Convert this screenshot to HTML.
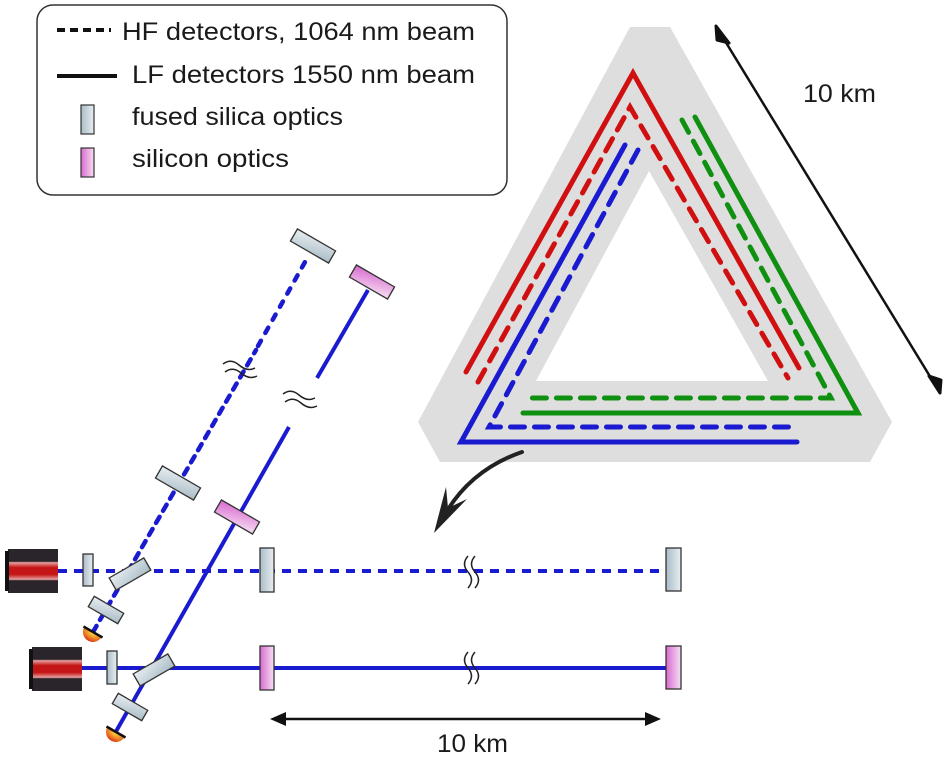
<!DOCTYPE html>
<html><head><meta charset="utf-8"><style>
html,body{margin:0;padding:0;background:#fff;}
svg{display:block;font-family:"Liberation Sans","DejaVu Sans",sans-serif;}
</style></head><body>
<svg width="951" height="765" viewBox="0 0 951 765" xmlns="http://www.w3.org/2000/svg">
<defs>
<linearGradient id="fs" x1="0" x2="1" y1="0" y2="0"><stop offset="0" stop-color="#a9bcc6"/><stop offset="1" stop-color="#e8eef1"/></linearGradient>
<linearGradient id="si" x1="0" x2="1" y1="0" y2="0"><stop offset="0" stop-color="#d86ad0"/><stop offset="1" stop-color="#f6e0f2"/></linearGradient>
<linearGradient id="fs2" x1="0" x2="1" y1="0" y2="1"><stop offset="0" stop-color="#e8eef1"/><stop offset="1" stop-color="#a9bcc6"/></linearGradient>
<linearGradient id="si2" x1="0" x2="1" y1="0" y2="1"><stop offset="0" stop-color="#d86ad0"/><stop offset="1" stop-color="#f6e0f2"/></linearGradient>
<linearGradient id="las" x1="0" x2="0" y1="0" y2="1"><stop offset="0" stop-color="#2a252a"/><stop offset="0.28" stop-color="#2a252a"/><stop offset="0.31" stop-color="#e8a0a0"/><stop offset="0.42" stop-color="#c41616"/><stop offset="0.58" stop-color="#c41616"/><stop offset="0.69" stop-color="#e8a0a0"/><stop offset="0.72" stop-color="#2a252a"/><stop offset="1" stop-color="#2a252a"/></linearGradient>
<radialGradient id="det" cx="0.5" cy="0.2" r="0.8"><stop offset="0" stop-color="#ffd040"/><stop offset="1" stop-color="#d83010"/></radialGradient>
</defs>

<!-- legend -->
<rect x="37" y="5" width="470" height="190" rx="16" fill="#fff" stroke="#333" stroke-width="1.5"/>
<line x1="57" y1="30" x2="111" y2="30" stroke="#111" stroke-width="4" stroke-dasharray="8,5"/>
<line x1="57" y1="76" x2="117" y2="76" stroke="#111" stroke-width="4"/>
<rect x="81" y="105" width="13" height="29" fill="url(#fs)" stroke="#333" stroke-width="1.2"/>
<rect x="81" y="148" width="13" height="29" fill="url(#si)" stroke="#333" stroke-width="1.2"/>
<g font-size="25" fill="#1a1a1a">
<text x="122" y="40" textLength="353" lengthAdjust="spacingAndGlyphs">HF detectors, 1064 nm beam</text>
<text x="132" y="83" textLength="343" lengthAdjust="spacingAndGlyphs">LF detectors 1550 nm beam</text>
<text x="132" y="125" textLength="211" lengthAdjust="spacingAndGlyphs">fused silica optics</text>
<text x="132" y="167" textLength="157" lengthAdjust="spacingAndGlyphs">silicon optics</text>
</g>

<!-- triangle -->
<path d="M630,27 L670,27 L892,422 L870,462 L440,462 L418,422 Z M649,171 L536,381 L768,381 Z" fill="#dedede" fill-rule="evenodd"/>
<g fill="none" stroke-width="5" stroke-linecap="round" stroke-linejoin="miter">
<path d="M466,372 L633,73 L799,368" stroke="#d01010"/>
<path d="M478,382 L630,107 L788,378" stroke="#d01010" stroke-dasharray="14,10"/>
<path d="M625,145 L461,442 L797,442" stroke="#1a1ad0"/>
<path d="M638,150 L489,427 L797,427" stroke="#1a1ad0" stroke-dasharray="14,10"/>
<path d="M695,117 L858,413 L523,413" stroke="#109010"/>
<path d="M682,120 L831,398 L523,398" stroke="#109010" stroke-dasharray="14,10"/>
</g>
<!-- 10 km diag arrow -->
<line x1="722" y1="36" x2="934" y2="383" stroke="#111" stroke-width="2.5"/>
<path d="M716,26 L729,43 L717,40 Z M940,393 L929,376 L941,380 Z" fill="#111" stroke="#111" stroke-width="3" stroke-linejoin="round"/>
<text x="803" y="102" font-size="25" fill="#1a1a1a" textLength="73" lengthAdjust="spacingAndGlyphs">10 km</text>

<!-- curved arrow -->
<path d="M522,452 Q470,470 444,516" fill="none" stroke="#222" stroke-width="4" stroke-linecap="round"/>
<path d="M434,533 L446,487 L448,508 L467,499 Z" fill="#222"/>

<!-- horizontal beams -->
<line x1="58" y1="571" x2="668" y2="571" stroke="#1a1ad0" stroke-width="4" stroke-dasharray="9,7"/>
<line x1="82" y1="668" x2="668" y2="668" stroke="#1a1ad0" stroke-width="4"/>
<!-- diagonal beams -->
<line x1="93" y1="632" x2="256" y2="350" stroke="#1a1ad0" stroke-width="4.5" stroke-dasharray="7,7" stroke-linecap="round"/>
<line x1="258" y1="346" x2="305" y2="262" stroke="#1a1ad0" stroke-width="4.5" stroke-dasharray="6,9" stroke-linecap="round"/>
<line x1="114" y1="735" x2="289" y2="427" stroke="#1a1ad0" stroke-width="4"/>
<line x1="317" y1="378" x2="368" y2="290" stroke="#1a1ad0" stroke-width="4"/>
<!-- break marks -->
<g fill="none" stroke="#222" stroke-width="1.5">
<path d="M223,364 q8,-6 16,1 t16,3"/><path d="M225,372 q8,-6 16,1 t16,3"/>
<path d="M283,394 q8,-6 16,1 t16,3"/><path d="M285,402 q8,-6 16,1 t16,3"/>
<path d="M468,556 q-7,8 0,16 t0,16"/><path d="M475,556 q-7,8 0,16 t0,16"/>
<path d="M468,652 q-7,8 0,16 t0,16"/><path d="M475,652 q-7,8 0,16 t0,16"/>
</g>

<!-- lasers -->
<rect x="8" y="549" width="50" height="44" fill="url(#las)"/>
<rect x="5" y="551" width="4" height="40" fill="#111"/>
<rect x="32" y="647" width="50" height="44" fill="url(#las)"/>
<rect x="29" y="649" width="4" height="40" fill="#111"/>

<!-- straight mirrors -->
<g stroke="#333" stroke-width="1.3">
<rect x="83" y="554" width="10" height="32" fill="url(#fs)"/>
<rect x="260" y="548" width="14" height="44" fill="url(#fs)"/>
<rect x="666" y="548" width="15" height="43" fill="url(#fs)"/>
<rect x="107" y="651" width="10" height="33" fill="url(#fs)"/>
<rect x="260" y="646" width="14" height="44" fill="url(#si)"/>
<rect x="666" y="646" width="15" height="43" fill="url(#si)"/>
</g>
<!-- rotated optics -->
<g stroke="#333" stroke-width="1.3">
<rect x="-22" y="-7" width="44" height="14" fill="url(#fs2)" transform="translate(313,246) rotate(30)"/>
<rect x="-22" y="-7" width="44" height="14" fill="url(#si2)" transform="translate(372,282) rotate(30)"/>
<rect x="-22" y="-7" width="44" height="14" fill="url(#fs2)" transform="translate(178,483) rotate(30)"/>
<rect x="-22" y="-7" width="44" height="14" fill="url(#si2)" transform="translate(237,517) rotate(30)"/>
<rect x="-17" y="-6" width="34" height="12" fill="url(#fs2)" transform="translate(106,610) rotate(30)"/>
<rect x="-17" y="-6" width="34" height="12" fill="url(#fs2)" transform="translate(130,707) rotate(30)"/>
<rect x="-20" y="-7" width="40" height="14" fill="url(#fs2)" transform="translate(130,574) rotate(-30)"/>
<rect x="-20" y="-7" width="40" height="14" fill="url(#fs2)" transform="translate(154,670) rotate(-30)"/>
</g>
<!-- detectors -->
<g transform="translate(93,632) rotate(30)"><path d="M-10,0 A10,10 0 0 0 10,0 Z" fill="url(#det)"/><line x1="-11" y1="0" x2="11" y2="0" stroke="#111" stroke-width="2.5"/></g>
<g transform="translate(116,732) rotate(30)"><path d="M-10,0 A10,10 0 0 0 10,0 Z" fill="url(#det)"/><line x1="-11" y1="0" x2="11" y2="0" stroke="#111" stroke-width="2.5"/></g>

<!-- bottom 10 km arrow -->
<line x1="282" y1="719" x2="650" y2="719" stroke="#111" stroke-width="2.5"/>
<path d="M270,719 L286,712 L286,726 Z M661,719 L645,712 L645,726 Z" fill="#111"/>
<text x="437" y="752" font-size="25" fill="#1a1a1a" textLength="71" lengthAdjust="spacingAndGlyphs">10 km</text>
</svg>
</body></html>
